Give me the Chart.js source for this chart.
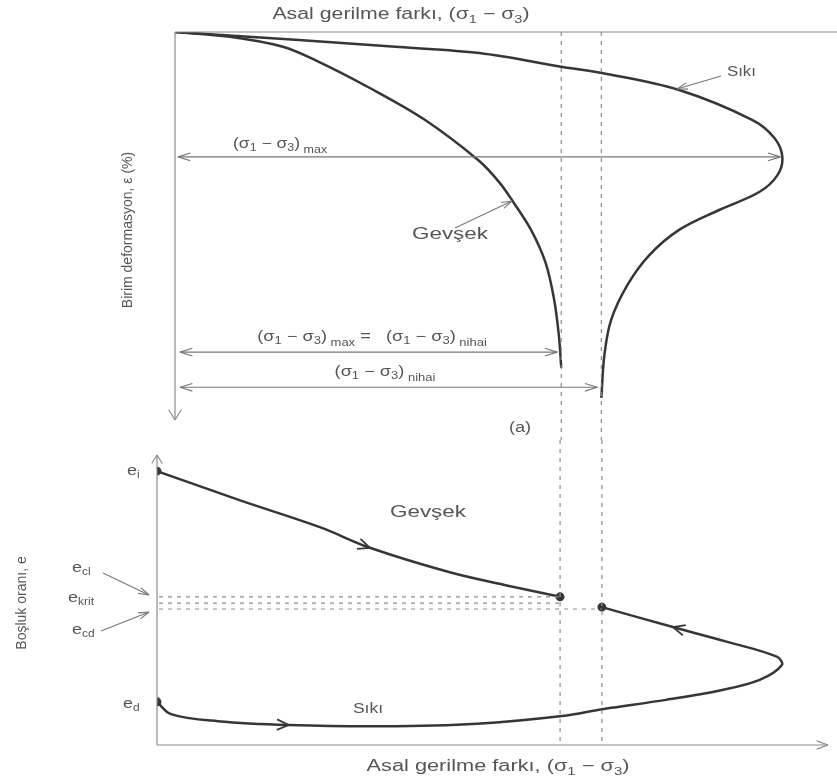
<!DOCTYPE html>
<html>
<head>
<meta charset="utf-8">
<script src="https://cdn.jsdelivr.net/npm/chart.js@4.4.0/dist/chart.umd.min.js"></script>
<style>
  html, body { margin: 0; padding: 0; background: #fff; }
  #wrap { position: relative; width: 837px; height: 784px; }
  canvas { position: absolute; left: 0; }
</style>
</head>
<body>
<div id="wrap">
  <canvas id="top" width="837" height="440" style="top:0"></canvas>
  <canvas id="bot" width="837" height="344" style="top:440px"></canvas>
</div>
<script>
// (a) asal gerilme farkı vs birim deformasyon
const gevsekStress = [0, 9, 17.6, 23, 32, 41, 50, 53.4, 55.8, 58.6, 61, 62.4, 63.2, 63.6];
const gevsekStrain = [0, 0.2, 0.6, 1.15, 2.3, 3.6, 5.3, 6.2, 7.05, 8.15, 9.5, 11, 12.5, 13.85];
const sikiStress = [0, 20.4, 36.9, 50.1, 63.8, 70.3, 83, 95.1, 98.7, 100, 99.2, 96.2, 89.6, 83, 78.1, 74.5, 71.8, 70.7, 70.2];
const sikiStrain = [0, 0.33, 0.62, 0.87, 1.44, 1.69, 2.39, 3.63, 4.37, 5.15, 5.9, 6.6, 7.34, 8.16, 9.2, 10.43, 11.88, 13.32, 15.09];

// (b) asal gerilme farkı vs boşluk oranı
const gevsekStressB = [0, 13, 25.7, 33.6, 46.2, 55, 63.6];
const gevsekVoid = [0.925, 0.88, 0.838, 0.806, 0.768, 0.748, 0.73];
const sikiStressB = [0, 2.2, 9.6, 20.8, 35.6, 50.5, 63.9, 70.5, 80.3, 89, 95.1, 98.6, 97.8, 90, 81.4, 70.2];
const sikiVoid = [0.567, 0.548, 0.537, 0.531, 0.529, 0.533, 0.545, 0.556, 0.57, 0.585, 0.601, 0.624, 0.637, 0.66, 0.683, 0.714];
const critNames = ['cl', 'krit', 'cd'];
const critVoid = [0.73, 0.72, 0.711];

const ink = '#363636';
const axisCol = '#8c8c8c';
const textCol = '#555';
const FONT = '"Liberation Sans", Arial, sans-serif';

function pts(xs, ys) {
  return xs.map((x, i) => ({ x: x, y: ys[i] }));
}
function last(a) { return a[a.length - 1]; }

function line(ctx, x1, y1, x2, y2) {
  ctx.beginPath();
  ctx.moveTo(x1, y1);
  ctx.lineTo(x2, y2);
  ctx.stroke();
}
// open "V" arrow head, tip at (tx,ty), pointing along ang
function head(ctx, tx, ty, ang, len, spread) {
  spread = spread || 0.38;
  [-1, 1].forEach(s => {
    line(ctx, tx, ty, tx - len * Math.cos(ang + s * spread), ty - len * Math.sin(ang + s * spread));
  });
}
function pointer(ctx, x1, y1, x2, y2) {
  line(ctx, x1, y1, x2, y2);
  head(ctx, x2, y2, Math.atan2(y2 - y1, x2 - x1), 11, 0.3);
}
function dimLine(ctx, x1, x2, y) {
  line(ctx, x1, y, x2, y);
  head(ctx, x1, y, Math.PI, 13, 0.3);
  head(ctx, x2, y, 0, 13, 0.3);
}
// text with subscripts: kind 0 normal, 1 subscript, 2 low subscript; sx = horizontal stretch
function rich(ctx, parts, x, y, size, align, sx) {
  sx = sx || 1;
  const fontOf = k => (k ? Math.round(size * 0.68) : size) + 'px ' + FONT;
  const w = parts.map(p => { ctx.font = fontOf(p[1]); return ctx.measureText(p[0]).width; });
  const total = w.reduce((a, b) => a + b, 0) * sx;
  const x0 = align === 'center' ? x - total / 2 : align === 'right' ? x - total : x;
  ctx.save();
  ctx.translate(x0, y);
  ctx.scale(sx, 1);
  ctx.textAlign = 'left';
  ctx.textBaseline = 'middle';
  let cx = 0;
  parts.forEach((p, i) => {
    ctx.font = fontOf(p[1]);
    const dy = p[1] === 1 ? size * 0.3 : p[1] === 2 ? size * 0.45 : 0;
    ctx.fillText(p[0], cx, dy);
    cx += w[i];
  });
  ctx.restore();
}
const sig = [['(σ', 0], ['1', 1], [' − σ', 0], ['3', 1], [')', 0]];

// arrow heads drawn on a curve at given indices, in travel direction
function curveArrows(chart, dsIndex, idxs) {
  const ctx = chart.ctx;
  const el = chart.getDatasetMeta(dsIndex).data;
  idxs.forEach(i => {
    const a = el[i - 1], b = el[i + 1], p = el[i];
    head(ctx, p.x, p.y, Math.atan2(b.y - a.y, b.x - a.x), 13, 0.42);
  });
}

const topNotes = {
  id: 'topNotes',
  afterDatasetsDraw(chart) {
    const { ctx, chartArea: a, scales: { x, y } } = chart;
    ctx.save();
    ctx.strokeStyle = axisCol;
    ctx.lineWidth = 1.2;
    line(ctx, a.left, a.top, a.right, a.top);
    line(ctx, a.left, a.top, a.left, a.bottom);
    head(ctx, a.left, a.bottom, Math.PI / 2, 12, 0.55);

    // dashed guides at the final stresses
    ctx.setLineDash([4, 5]);
    [last(gevsekStress), last(sikiStress)].forEach(v => {
      const px = x.getPixelForValue(v);
      line(ctx, px, a.top, px, chart.height);
    });
    ctx.setLineDash([]);

    // dimension lines
    ctx.strokeStyle = '#777';
    ctx.lineWidth = 1.1;
    const pk = sikiStress.indexOf(Math.max(...sikiStress));
    dimLine(ctx, a.left + 3, x.getPixelForValue(sikiStress[pk]) - 2, y.getPixelForValue(sikiStrain[pk]));
    dimLine(ctx, a.left + 5, x.getPixelForValue(last(gevsekStress)) - 4, y.getPixelForValue(13.2));
    dimLine(ctx, a.left + 5, x.getPixelForValue(last(sikiStress)) - 4, y.getPixelForValue(14.65));

    // pointers
    pointer(ctx, 721, 76, 677, 89);
    pointer(ctx, 455, 228, 512, 201);

    ctx.fillStyle = textCol;
    rich(ctx, [['Asal gerilme farkı, ', 0]].concat(sig), 401, 15, 16, 'center', 1.33);
    rich(ctx, sig.concat([[' max', 2]]), 233, 144, 14, 'left', 1.25);
    rich(ctx, sig.concat([[' max', 2], [' =   ', 0]]).concat(sig).concat([[' nihai', 2]]), 372, 337, 14, 'center', 1.3);
    rich(ctx, sig.concat([[' nihai', 2]]), 385, 372, 14, 'center', 1.3);
    rich(ctx, [['(a)', 0]], 520, 428, 14, 'center', 1.3);
    rich(ctx, [['Sıkı', 0]], 727, 72, 14, 'left', 1.2);
    rich(ctx, [['Gevşek', 0]], 450, 235, 16, 'center', 1.4);

    ctx.save();
    ctx.translate(128, 230);
    ctx.rotate(-Math.PI / 2);
    rich(ctx, [['Birim deformasyon, ε (%)', 0]], 0, 0, 14, 'center');
    ctx.restore();
    ctx.restore();
  }
};

const botNotes = {
  id: 'botNotes',
  afterDatasetsDraw(chart) {
    const { ctx, chartArea: a, scales: { x, y } } = chart;
    ctx.save();
    ctx.strokeStyle = axisCol;
    ctx.lineWidth = 1.2;
    line(ctx, a.left, a.bottom, a.left, a.top);
    head(ctx, a.left, a.top, -Math.PI / 2, 10, 0.55);
    line(ctx, a.left, a.bottom, a.right - 9, a.bottom);
    head(ctx, a.right - 9, a.bottom, 0, 12, 0.35);

    ctx.setLineDash([4, 5]);
    const gEnd = x.getPixelForValue(last(gevsekStressB));
    const sEnd = x.getPixelForValue(last(sikiStressB));
    [gEnd, sEnd].forEach(px => line(ctx, px, 0, px, a.bottom));
    critVoid.forEach((v, i) => {
      const py = y.getPixelForValue(v);
      line(ctx, a.left + 2, py, i === 2 ? sEnd : gEnd, py);
    });
    ctx.setLineDash([]);

    ctx.strokeStyle = ink;
    ctx.lineWidth = 1.8;
    curveArrows(chart, 0, [3]);
    curveArrows(chart, 1, [3, 14]);

    ctx.strokeStyle = '#777';
    ctx.lineWidth = 1.1;
    pointer(ctx, 103, 133, 149, 155);
    pointer(ctx, 101, 191, 149, 172);

    ctx.fillStyle = textCol;
    rich(ctx, [['e', 0], ['i', 1]], 127, 31, 15, 'left', 1.2);
    rich(ctx, [['e', 0], [critNames[0], 1]], 72, 128, 15, 'left', 1.2);
    rich(ctx, [['e', 0], [critNames[1], 1]], 68, 158, 15, 'left', 1.2);
    rich(ctx, [['e', 0], [critNames[2], 1]], 72, 190, 15, 'left', 1.2);
    rich(ctx, [['e', 0], ['d', 1]], 123, 264, 15, 'left', 1.2);
    rich(ctx, [['Gevşek', 0]], 428, 73, 16, 'center', 1.4);
    rich(ctx, [['Sıkı', 0]], 368, 269, 14, 'center', 1.25);
    rich(ctx, [['Asal gerilme farkı, ', 0]].concat(sig), 498, 327, 16, 'center', 1.36);

    ctx.save();
    ctx.translate(22, 163);
    ctx.rotate(-Math.PI / 2);
    rich(ctx, [['Boşluk oranı, e', 0]], 0, 0, 14, 'center');
    ctx.restore();
    ctx.restore();
  }
};

function curve(data, label, ends) {
  return {
    label: label,
    data: data,
    showLine: true,
    tension: 0.35,
    borderColor: ink,
    borderWidth: 2.5,
    backgroundColor: ink,
    pointRadius: ends ? (c => (c.dataIndex === 0 && ends[0]) || (c.dataIndex === data.length - 1 && ends[1]) ? 3.2 : 0) : 0,
    pointHoverRadius: 0
  };
}

const baseOpts = {
  responsive: false,
  animation: false,
  plugins: { legend: { display: false }, tooltip: { enabled: false } },
  events: []
};

new Chart(document.getElementById('top'), {
  type: 'scatter',
  data: {
    datasets: [
      curve(pts(gevsekStress, gevsekStrain), 'Gevşek'),
      curve(pts(sikiStress, sikiStrain), 'Sıkı')
    ]
  },
  options: Object.assign({}, baseOpts, {
    layout: { autoPadding: false, padding: { left: 175, right: 0, top: 32, bottom: 20 } },
    scales: {
      x: { type: 'linear', display: false, min: 0, max: 109 },
      y: { type: 'linear', display: false, min: 0, max: 16, reverse: true }
    }
  }),
  plugins: [topNotes]
});

new Chart(document.getElementById('bot'), {
  type: 'scatter',
  data: {
    datasets: [
      curve(pts(gevsekStressB, gevsekVoid), 'Gevşek', [true, true]),
      curve(pts(sikiStressB, sikiVoid), 'Sıkı', [true, true])
    ]
  },
  options: Object.assign({}, baseOpts, {
    layout: { autoPadding: false, padding: { left: 157, right: 0, top: 15, bottom: 39 } },
    scales: {
      x: { type: 'linear', display: false, min: 0, max: 107.3 },
      y: { type: 'linear', display: false, min: 0.5, max: 0.95 }
    }
  }),
  plugins: [botNotes]
});
</script>
</body>
</html>
